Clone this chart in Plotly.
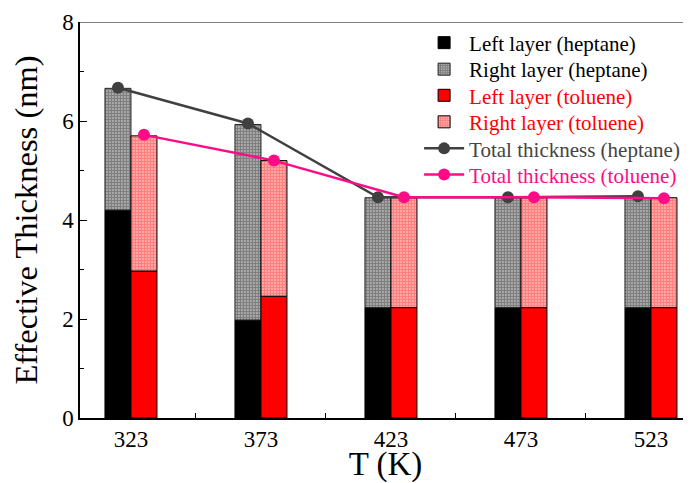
import plotly.graph_objects as go

temps = [323, 373, 423, 473, 523]
tick_labels = ["323", "373", "423", "473", "523"]
hep_left = [4.20, 1.98, 2.23, 2.23, 2.23]
hep_total = [6.66, 5.93, 4.45, 4.45, 4.45]
tol_left = [2.97, 2.46, 2.23, 2.23, 2.23]
tol_total = [5.70, 5.20, 4.45, 4.45, 4.45]
hep_line = [6.67, 5.95, 4.46, 4.46, 4.48]
tol_line = [5.72, 5.20, 4.46, 4.46, 4.44]

hep_right = [t - l for t, l in zip(hep_total, hep_left)]
tol_right = [t - l for t, l in zip(tol_total, tol_left)]

FONT = "Liberation Serif"
BW = 10
hep_x = [t - BW / 2 for t in temps]
tol_x = [t + BW / 2 for t in temps]

PAT = dict(shape=".", size=3, solidity=0.8, fillmode="overlay", bgcolor="white")

fig = go.Figure()
fig.add_trace(go.Bar(x=hep_x, y=hep_left, width=BW, name="Left layer (heptane)", legend="legend",
                     marker=dict(color="black", line=dict(color="black", width=1))))
fig.add_trace(go.Bar(x=hep_x, y=hep_right, base=hep_left, width=BW, name="Right layer (heptane)",
                     legend="legend2",
                     marker=dict(color="white", line=dict(color="#222", width=1),
                                 pattern=dict(PAT, fgcolor="black"))))
fig.add_trace(go.Bar(x=tol_x, y=tol_left, width=BW, legend="legend3",
                     name='<span style="color:#FF0000">Left layer (toluene)</span>',
                     marker=dict(color="#FF0000", line=dict(color="black", width=1))))
fig.add_trace(go.Bar(x=tol_x, y=tol_right, base=tol_left, width=BW, legend="legend4",
                     name='<span style="color:#FF0000">Right layer (toluene)</span>',
                     marker=dict(color="white", line=dict(color="black", width=1),
                                 pattern=dict(PAT, fgcolor="#FF0000"))))
fig.add_trace(go.Scatter(x=hep_x, y=hep_line, mode="lines+markers", legend="legend5",
                         name='<span style="color:#444444">Total thickness (heptane)</span>',
                         line=dict(color="#404040", width=2.5),
                         marker=dict(color="#404040", size=12)))
fig.add_trace(go.Scatter(x=tol_x, y=tol_line, mode="lines+markers", legend="legend6",
                         name='<span style="color:#FF0A87">Total thickness (toluene)</span>',
                         line=dict(color="#FF0A87", width=2.5),
                         marker=dict(color="#FF0A87", size=12)))

# legend rows (paper y of row centres)
row_y = [0.947, 0.880, 0.814, 0.747, 0.680, 0.614]
legends = {}
for i, yy in enumerate(row_y):
    key = "legend" if i == 0 else f"legend{i + 1}"
    legends[key] = dict(x=0.555, y=yy, xanchor="left", yanchor="middle",
                        bgcolor="rgba(255,255,255,0)", font=dict(size=21, family=FONT),
                        itemwidth=40)

# page body has an 8px default margin: figure sits at (8, 8)
fig.update_layout(
    width=683, height=475,
    barmode="overlay",
    paper_bgcolor="white", plot_bgcolor="white",
    margin=dict(l=72, r=0, t=14, b=65, autoexpand=False),
    font=dict(family=FONT, color="black", size=22),
    showlegend=True,
    **legends,
    xaxis=dict(range=[303.4, 538.4], tickvals=temps, ticktext=tick_labels, automargin=False,
               showgrid=False, zeroline=False, showline=True, linecolor="black", linewidth=1.5,
               ticks="inside", ticklen=5, tickcolor="black",
               minor=dict(tickvals=[348, 398, 448, 498], ticks="inside", ticklen=5, tickcolor="black"),
               tickfont=dict(size=23),
               title=dict(text="T (K)", font=dict(size=33), standoff=6)),
    yaxis=dict(range=[0, 8], tickvals=[0, 2, 4, 6, 8], automargin=False,
               showgrid=False, zeroline=False, showline=True, linecolor="black", linewidth=1.5,
               ticks="inside", ticklen=7, tickcolor="black",
               minor=dict(tickvals=[1, 3, 5, 7], ticks="inside", ticklen=4, tickcolor="black"),
               tickfont=dict(size=23),
               title=dict(text="Effective Thickness (nm)", font=dict(size=32.5), standoff=18)),
    shapes=[dict(type="line", xref="paper", yref="y", x0=0, x1=1, y0=8, y1=8,
                 line=dict(color="#808080", width=2))],
)

fig.write_html("out.html")
